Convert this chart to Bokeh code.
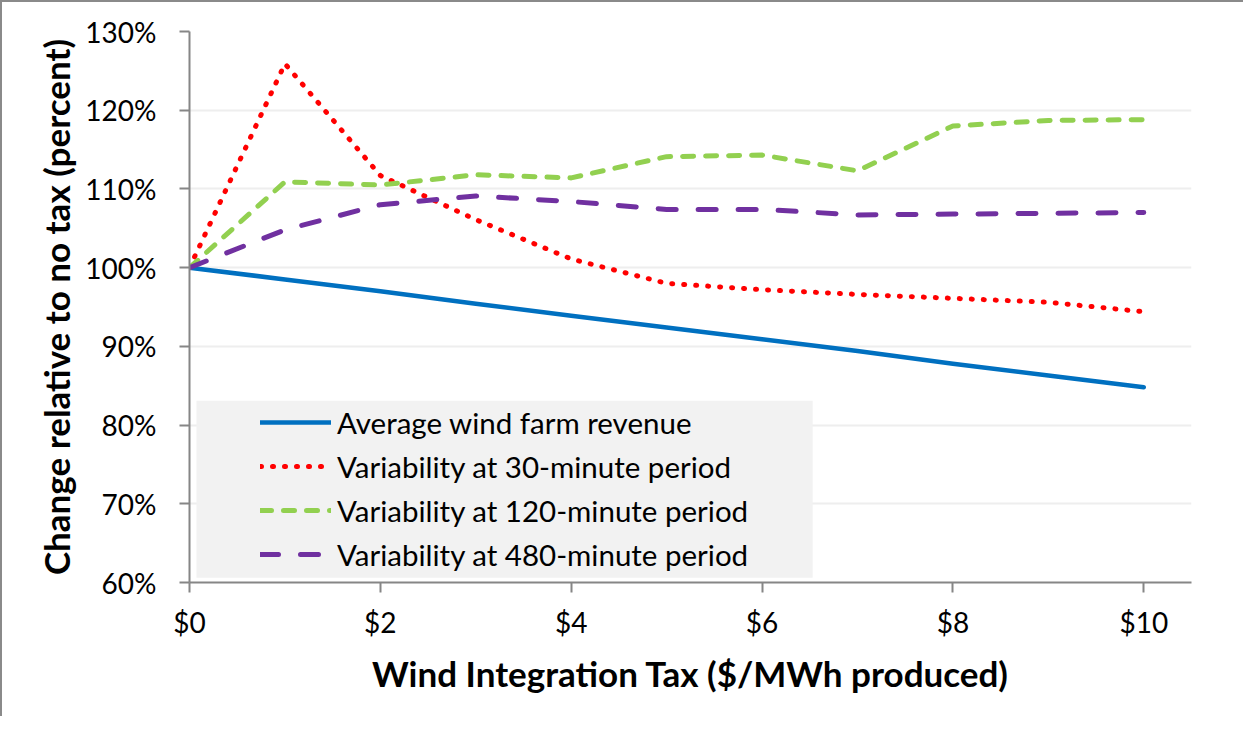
from bokeh.plotting import figure
from bokeh.models import (Range1d, FixedTicker, PrintfTickFormatter, Legend,
                          LegendItem, BoxAnnotation)
from bokeh.embed import file_html
from bokeh.resources import INLINE

# ---- data (percent of no-tax value) ----
tax = [0, 1, 2, 3, 4, 5, 6, 7, 8, 9, 10]
revenue = [100.0, 98.5, 97.0, 95.4, 93.9, 92.4, 90.9, 89.4, 87.8, 86.3, 84.8]
var30 = [100.0, 125.9, 111.7, 106.1, 101.1, 98.0, 97.2, 96.6, 96.1, 95.6, 94.4]
var120 = [100.0, 110.9, 110.5, 111.8, 111.4, 114.1, 114.3, 112.3, 118.0, 118.7, 118.8]
var480 = [100.0, 104.8, 108.0, 109.1, 108.4, 107.4, 107.4, 106.7, 106.8, 106.9, 107.0]

labels = ["Average wind farm revenue",
          "Variability at 30-minute period",
          "Variability at 120-minute period",
          "Variability at 480-minute period"]
x_ticks = [0, 2, 4, 6, 8, 10]
y_ticks = [60, 70, 80, 90, 100, 110, 120, 130]

FONT = "Lato"

p = figure(width=1243, height=716, output_backend="svg", toolbar_location=None,
           x_range=Range1d(0, 10.5), y_range=Range1d(60, 130),
           min_border_left=187, min_border_right=54, min_border_top=29,
           min_border_bottom=136)
p.styles = {"border-left": "2px solid #8a8a8a", "border-top": "2px solid #8a8a8a"}
p.outline_line_color = None
p.background_fill_color = "white"
p.border_fill_color = "white"

# grid
p.xgrid.visible = False
p.ygrid.grid_line_color = "#eeeeee"
p.ygrid.grid_line_width = 2

# axes
for ax in (p.xaxis[0], p.yaxis[0]):
    ax.axis_line_color = "#868686"
    ax.axis_line_width = 2
    ax.major_tick_line_color = "#868686"
    ax.major_tick_line_width = 2
    ax.major_tick_out = 10
    ax.major_tick_in = 0
    ax.minor_tick_line_color = None
    ax.major_label_text_font = FONT
    ax.major_label_text_font_size = "28px"
    ax.major_label_text_color = "black"
    ax.axis_label_text_font = FONT
    ax.axis_label_text_font_style = "bold"
    ax.axis_label_text_font_size = "35px"
    ax.axis_label_text_color = "black"

p.xaxis.ticker = FixedTicker(ticks=x_ticks)
p.xaxis.formatter = PrintfTickFormatter(format="$%d")
p.xaxis.major_label_standoff = 12
p.xaxis.axis_label = "Wind Integration Tax ($/MWh produced)"
p.xaxis.axis_label_standoff = 10

p.yaxis.ticker = FixedTicker(ticks=y_ticks)
p.yaxis.formatter = PrintfTickFormatter(format="%d%%")
p.yaxis.major_label_standoff = 23
p.yaxis.axis_label = "Change relative to no tax (percent)"
p.yaxis.axis_label_standoff = 5

# series
r_rev = p.line(tax, revenue, line_color="#0070c0", line_width=4.5,
               line_cap="round", line_join="round")
r_30 = p.line(tax, var30, line_color="#ff0000", line_width=5,
              line_dash="1 11", line_cap="round", line_join="round")
r_120 = p.line(tax, var120, line_color="#92d050", line_width=5,
               line_dash="11 12", line_cap="round", line_join="round")
r_480 = p.line(tax, var480, line_color="#7030a0", line_width=5,
               line_dash="18 22", line_cap="round", line_join="round")

# legend background panel
panel = BoxAnnotation(left=0.073, right=6.53, top=83.1, bottom=60.6,
                      fill_color="#f2f2f2", fill_alpha=1.0, line_color=None)
p.add_layout(panel)

legend = Legend(items=[LegendItem(label=l, renderers=[r]) for l, r in
                       zip(labels, [r_rev, r_30, r_120, r_480])],
                location=(71, 6), orientation="vertical",
                background_fill_alpha=0, border_line_color=None,
                padding=0, margin=0, spacing=0,
                glyph_width=71, glyph_height=44, label_height=44,
                label_standoff=6,
                label_text_font=FONT, label_text_font_size="29.5px",
                label_text_color="black")
p.add_layout(legend, "center")

open("out.html", "w").write(file_html(p, INLINE))
